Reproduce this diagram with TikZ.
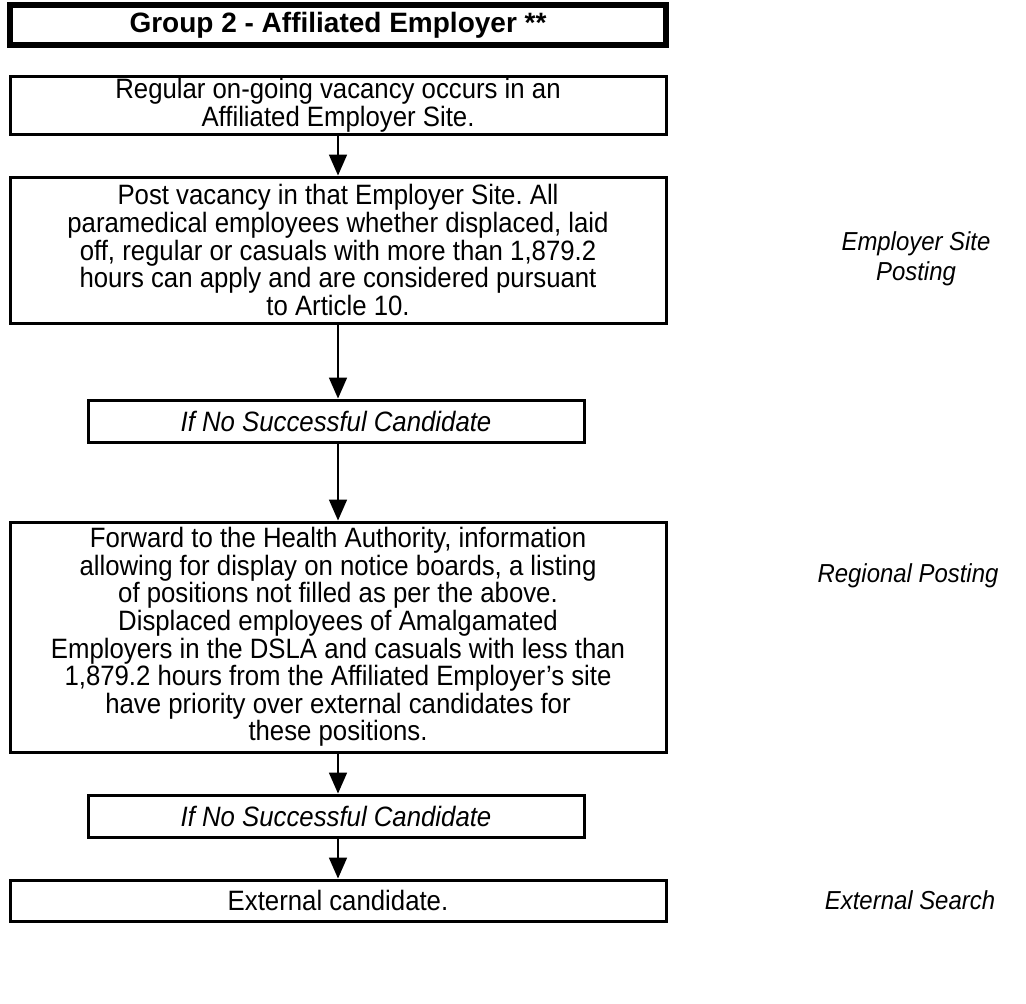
\documentclass[tikz,border=0pt]{standalone}
\usepackage{fontspec}
\setmainfont{Liberation Sans}[FakeStretch=0.92]
\newfontfamily\headfont{Liberation Sans}
\usetikzlibrary{arrows.meta}
\frenchspacing

\begin{document}
\begin{tikzpicture}[x=0.5pt,y=-0.5pt,
		font=\fontsize{14}{13.8}\selectfont,
		box/.style={draw,line width=1.5pt,align=center,inner sep=0pt,minimum width=328pt},
		ifbox/.style={draw,line width=1.5pt,inner sep=0pt,minimum width=248pt,minimum height=21pt,font=\fontsize{14}{14}\selectfont\itshape},
		side/.style={align=center,font=\fontsize{13}{15}\selectfont\itshape},
		arr/.style={line width=0.9pt,-{Triangle[width=9pt,length=10.5pt]}}]
		\useasboundingbox (0,0) rectangle (1026,1003);
		
		\node[box,line width=3pt,minimum height=20pt,font=\headfont\fontsize{14}{14}\selectfont\bfseries] (title) at (338,25) {Group 2 - Affiliated Employer **};
		
		\node[box,minimum height=29pt] (occur) at (338,105) {Regular on-going vacancy occurs in an\\Affiliated Employer Site.};
		\node[box,minimum height=73pt] (post) at (338,250) {Post vacancy in that Employer Site. All\\paramedical employees whether displaced, laid\\off, regular or casuals with more than 1,879.2\\hours can apply and are considered pursuant\\to Article 10.};
		\node[ifbox] (nosucc) at (336,421) {If No Successful Candidate};
		\node[box,minimum height=115pt] (region) at (338,637) {Forward to the Health Authority, information\\allowing for display on notice boards, a listing\\of positions not filled as per the above.\\Displaced employees of Amalgamated\\Employers in the DSLA and casuals with less than\\1,879.2 hours from the Affiliated Employer's site\\have priority over external candidates for\\these positions.};
		\node[ifbox] (nosuccb) at (336,816) {If No Successful Candidate};
		\node[box,minimum height=20.5pt] (extern) at (338,900.5) {External candidate.};
		
		% labels on the right
		\node[side] (lsite) at (916,259) {Employer Site\\Posting};
		\node[side] (lreg) at (908,576) {Regional Posting};
		\node[side] (lext) at (910,900) {External Search};
		
		\draw[arr] (occur.south) -- (post.north);
		\draw[arr] (post.south) -- (post.south |- nosucc.north);
		\draw[arr] (region.north |- nosucc.south) -- (region.north);
		\draw[arr] (region.south) -- (region.south |- nosuccb.north);
		\draw[arr] (extern.north |- nosuccb.south) -- (extern.north);
	\end{tikzpicture}
\end{document}
